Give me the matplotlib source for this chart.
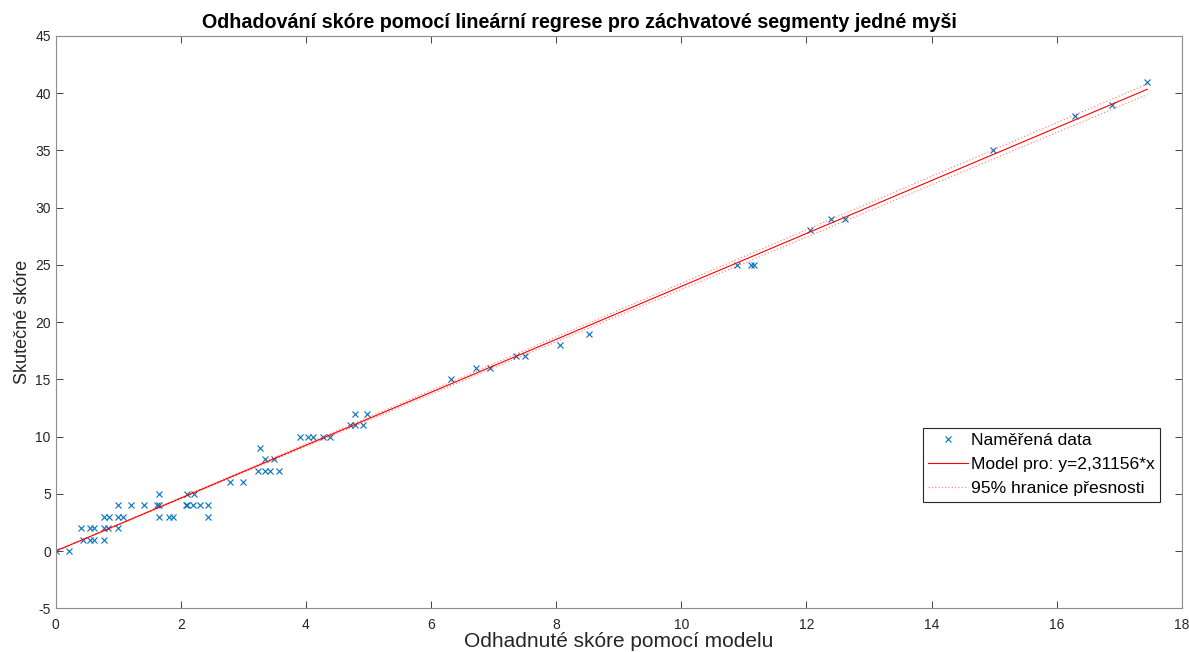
import numpy as np
from matplotlib import pyplot as plt

plt.rcParams['font.family'] = ['Liberation Sans', 'DejaVu Sans']
plt.rcParams['axes.unicode_minus'] = False

# odhadnute skore (model) a skutecne skore
odhad = [0.00, 0.21,
         0.43, 0.55, 0.62, 0.77,
         0.41, 0.55, 0.62, 0.77, 0.84, 0.99,
         0.77, 0.85, 0.99, 1.07, 1.66, 1.81, 1.87, 2.44,
         0.99, 1.20, 1.42, 1.62, 1.65, 2.09, 2.10, 2.19, 2.30, 2.44,
         1.65, 2.10, 2.21,
         2.78, 3.00,
         3.23, 3.34, 3.42, 3.57,
         3.35, 3.49,
         3.27,
         3.90, 4.03, 4.12, 4.27, 4.38,
         4.70, 4.78, 4.92,
         4.79, 4.98,
         6.32, 6.72, 6.95, 7.36, 7.51, 8.06, 8.52,
         10.89, 11.11, 11.16, 12.06, 12.40, 12.61,
         14.99, 16.29, 16.89, 17.45]
skutecne = [0, 0,
            1, 1, 1, 1,
            2, 2, 2, 2, 2, 2,
            3, 3, 3, 3, 3, 3, 3, 3,
            4, 4, 4, 4, 4, 4, 4, 4, 4, 4,
            5, 5, 5,
            6, 6,
            7, 7, 7, 7,
            8, 8,
            9,
            10, 10, 10, 10, 10,
            11, 11, 11,
            12, 12,
            15, 16, 16, 17, 17, 18, 19,
            25, 25, 25, 28, 29, 29,
            35, 38, 39, 41]

sklon = 2.31156
sklon_dolni = 2.285
sklon_horni = 2.338

x = np.array(odhad)
y = np.array(skutecne)
xl = np.linspace(0, x.max(), 50)

fig = plt.figure(figsize=(11.89, 6.52), dpi=100)
ax = fig.add_axes([0.0468, 0.067, 0.9471, 0.878])

ax.plot(x, y, 'x', color='#0072BD', markersize=5, markeredgewidth=0.8, label='Naměřená data')
ax.plot(xl, sklon * xl, '-', color='red', linewidth=0.8, label='Model pro: y=2,31156*x')
ax.plot(xl, sklon_horni * xl, ':', color='red', alpha=0.45, linewidth=0.9, label='95% hranice přesnosti')
ax.plot(xl, sklon_dolni * xl, ':', color='red', alpha=0.45, linewidth=0.9)

ax.set_xlim(0, 18)
ax.set_ylim(-5, 45)
ax.set_xticks(np.arange(0, 19, 2))
ax.set_yticks(np.arange(-5, 46, 5))
ax.tick_params(direction='in', length=5, labelsize=10, colors='#262626', width=0.6)
ax.tick_params(axis='x', pad=7)
ax.tick_params(top=True, right=True)
for s in ax.spines.values():
    s.set_color('#8c8c8c')
    s.set_linewidth(0.8)

ax.set_title('Odhadování skóre pomocí lineární regrese pro záchvatové segmenty jedné myši',
             fontsize=14.2, fontweight='bold', pad=6, x=0.465)
ax.set_xlabel('Odhadnuté skóre pomocí modelu', fontsize=15, color='#262626', labelpad=0)
ax.set_ylabel('Skutečné skóre', fontsize=13, color='#262626', labelpad=3)

leg = ax.legend(loc='upper left', bbox_to_anchor=(0.770, 0.315), fontsize=12.6,
                fancybox=False, edgecolor='#262626', framealpha=1,
                handlelength=2.3, handletextpad=0.15, borderpad=0.3, labelspacing=0.5,
                borderaxespad=0)
leg.get_frame().set_linewidth(0.8)

plt.savefig('out.png', dpi=100)
